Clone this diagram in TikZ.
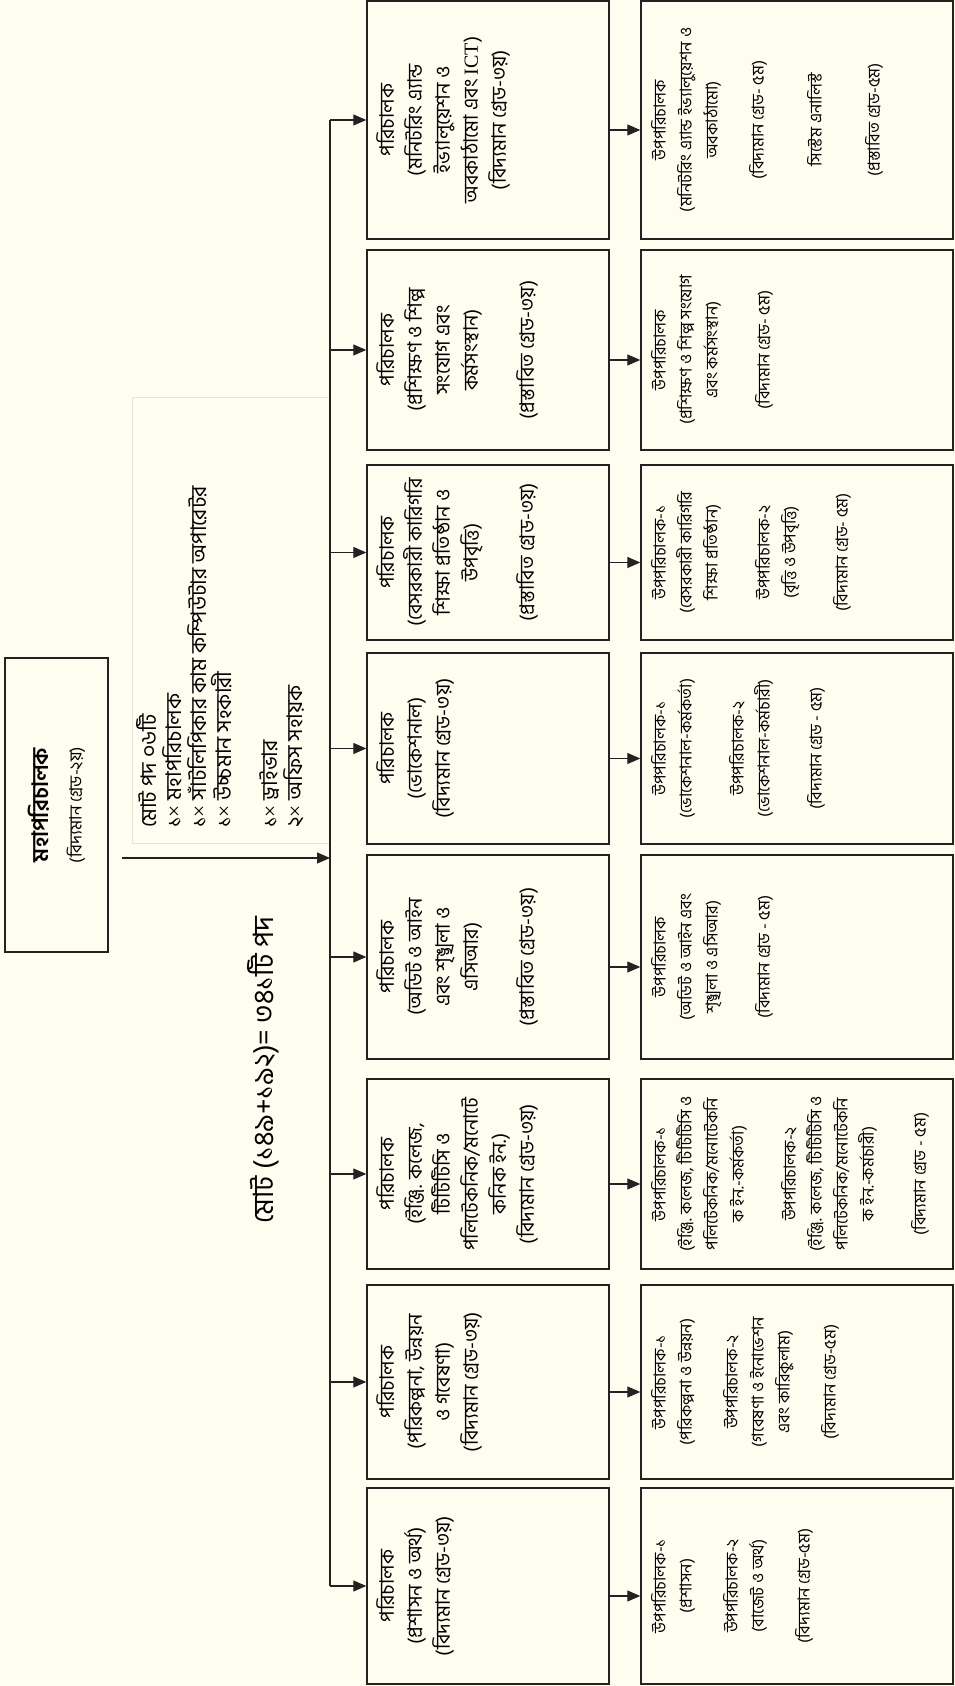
\documentclass[tikz,border=0pt]{standalone}
\usepackage{fontspec}
\usepackage{tikz}
\usetikzlibrary{arrows.meta,calc}
\setmainfont[Script=Bengali]{Hind Siliguri}
\newfontfamily\latinserif{Liberation Serif}
\definecolor{chartbg}{HTML}{FFFDF0}
\definecolor{boxline}{HTML}{222222}
\definecolor{noteline}{HTML}{E4E4DA}
\newcommand{\chartTurn}[0]{90}
\newcommand{\rowgap}[1][20pt]{\\[#1]}
\newcommand{\cross}[0]{{\latinserif ×}}

\begin{document}
\begin{tikzpicture}[rotate=\chartTurn, transform shape, x=1pt, y=1pt]
  \tikzset{
    box/.style={draw=boxline, line width=1.4pt, fill=chartbg, inner sep=0pt},
    dirbox/.style={box, minimum height=242pt},
    subbox/.style={box, minimum height=312pt},
    dirtext/.style={align=center, anchor=north, inner sep=0pt, font=\fontsize{20}{28}\selectfont},
    subtext/.style={align=center, anchor=north, inner sep=0pt, font=\fontsize{16.5}{26}\selectfont},
    arr/.style={draw=boxline, line width=1.1pt, -{Triangle[length=13pt,width=11pt]}}
  }
  \useasboundingbox[fill=chartbg] (0,0) rectangle (1686,-955);

  % top box and the total
  \node[box, minimum width=294pt, minimum height=103pt, align=center,
        font=\fontsize{17}{33}\selectfont] (dg) at (881,-56.5)
    {{\fontsize{22.5}{22.5}\selectfont\bfseries মহাপরিচালক}\\(বিদ্যমান গ্রেড-২য়)};
  \node[font=\fontsize{28}{28}\selectfont] (total) at (616,-263) {মোট (১৪৯+১৯২)= ৩৪১টি পদ};

  % posts of the head office
  \node[draw=noteline, line width=0.8pt, minimum width=446pt, minimum height=198pt, inner sep=0pt] (note) at (1066,-231) {};
  \node[anchor=north west, align=left, inner sep=0pt, font=\fontsize{21.5}{25}\selectfont] (notetext) at (858,-136)
    {মোট পদ ০৬টি\\১\cross{} মহাপরিচালক\\১\cross{} সাঁটলিপিকার কাম কম্পিউটার অপারেটর\\১\cross{} উচ্চমান সহকারী\rowgap[21pt]১\cross{} ড্রাইভার\\২\cross{} অফিস সহায়ক};

  % boxes of the directors and deputy directors
  \foreach \i/\c/\w in {1/100/196, 2/304/194, 3/512/190, 4/729/204, 5/937.5/191, 6/1133.5/175, 7/1336/200, 8/1566/238} {
    \node[dirbox, minimum width=\w pt] (d\i) at (\c,-488) {};
    \node[subbox, minimum width=\w pt] (s\i) at (\c,-797) {};
    \coordinate (b\i) at (\c,-330);
  }

  \node[dirtext] (d1text) at (100,-376) {পরিচালক\\(প্রশাসন ও অর্থ)\\(বিদ্যমান গ্রেড-৩য়)};
  \node[dirtext] (d2text) at (304,-376) {পরিচালক\\(পরিকল্পনা, উন্নয়ন\\ও গবেষণা)\\(বিদ্যমান গ্রেড-৩য়)};
  \node[dirtext] (d3text) at (512,-376) {পরিচালক\\(ইঞ্জি. কলেজ,\\টিটিটিসি ও\\পলিটেকনিক/মনোটে\\কনিক ইন.)\\(বিদ্যমান গ্রেড-৩য়)};
  \node[dirtext] (d4text) at (729,-376) {পরিচালক\\(অডিট ও আইন\\এবং শৃঙ্খলা ও\\এসিআর)\rowgap[28pt](প্রস্তাবিত গ্রেড-৩য়)};
  \node[dirtext] (d5text) at (937.5,-376) {পরিচালক\\(ভোকেশনাল)\\(বিদ্যমান গ্রেড-৩য়)};
  \node[dirtext] (d6text) at (1133.5,-376) {পরিচালক\\(বেসরকারী কারিগরি\\শিক্ষা প্রতিষ্ঠান ও\\উপবৃত্তি)\rowgap[28pt](প্রস্তাবিত গ্রেড-৩য়)};
  \node[dirtext] (d7text) at (1336,-376) {পরিচালক\\(প্রশিক্ষণ ও শিল্প\\সংযোগ এবং\\কর্মসংস্থান)\rowgap[28pt](প্রস্তাবিত গ্রেড-৩য়)};
  \node[dirtext] (d8text) at (1566,-376) {পরিচালক\\(মনিটরিং এ্যান্ড\\ইভ্যালুয়েশন ও\\অবকাঠামো এবং {\latinserif ICT})\\(বিদ্যমান গ্রেড-৩য়)};

  \node[subtext] (s1text) at (100,-651) {উপপরিচালক-১\\(প্রশাসন)\rowgap উপপরিচালক-২\\(বাজেট ও অর্থ)\rowgap(বিদ্যমান গ্রেড-৫ম)};
  \node[subtext] (s2text) at (304,-651) {উপপরিচালক-১\\(পরিকল্পনা ও উন্নয়ন)\rowgap উপপরিচালক-২\\(গবেষণা ও ইনোভেশন\\এবং কারিকুলাম)\rowgap(বিদ্যমান গ্রেড-৫ম)};
  \node[subtext] (s3text) at (512,-651) {উপপরিচালক-১\\(ইঞ্জি. কলেজ, টিটিটিসি ও\\পলিটেকনিক/মনোটেকনি\\ক ইন.-কর্মকর্তা)\rowgap[26pt]উপপরিচালক-২\\(ইঞ্জি. কলেজ, টিটিটিসি ও\\পলিটেকনিক/মনোটেকনি\\ক ইন.-কর্মচারী)\rowgap[26pt](বিদ্যমান গ্রেড - ৫ম)};
  \node[subtext] (s4text) at (729,-651) {উপপরিচালক\\(অডিট ও আইন এবং\\শৃঙ্খলা ও এসিআর)\rowgap[26pt](বিদ্যমান গ্রেড - ৫ম)};
  \node[subtext] (s5text) at (937.5,-651) {উপপরিচালক-১\\(ভোকেশনাল-কর্মকর্তা)\rowgap[26pt]উপপরিচালক-২\\(ভোকেশনাল-কর্মচারী)\rowgap[26pt](বিদ্যমান গ্রেড - ৫ম)};
  \node[subtext] (s6text) at (1133.5,-651) {উপপরিচালক-১\\(বেসরকারী কারিগরি\\শিক্ষা প্রতিষ্ঠান)\rowgap[26pt]উপপরিচালক-২\\(বৃত্তি ও উপবৃত্তি)\rowgap[26pt](বিদ্যমান গ্রেড- ৫ম)};
  \node[subtext] (s7text) at (1336,-651) {উপপরিচালক\\(প্রশিক্ষণ ও শিল্প সংযোগ\\এবং কর্মসংস্থান)\rowgap[26pt](বিদ্যমান গ্রেড- ৫ম)};
  \node[subtext] (s8text) at (1566,-651) {উপপরিচালক\\(মনিটরিং এ্যান্ড ইভ্যালুয়েশন ও\\অবকাঠামো)\rowgap(বিদ্যমান গ্রেড- ৫ম)\rowgap[32pt]সিস্টেম এনালিস্ট\rowgap[32pt](প্রস্তাবিত গ্রেড-৫ম)};

  % connectors
  \coordinate (dgout) at (828,-122);
  \coordinate (busin) at (828,-330);
  \draw[arr] (dgout) -- (busin);
  \draw[draw=boxline, line width=1.4pt] (b1) -- (b8);
  \foreach \i in {1,...,8} {
    \draw[arr] (b\i) -- (d\i);
    \draw[arr] ($(d\i.south)+(-10,0)$) -- ($(s\i.north)+(-10,0)$);
  }
\end{tikzpicture}
\end{document}
